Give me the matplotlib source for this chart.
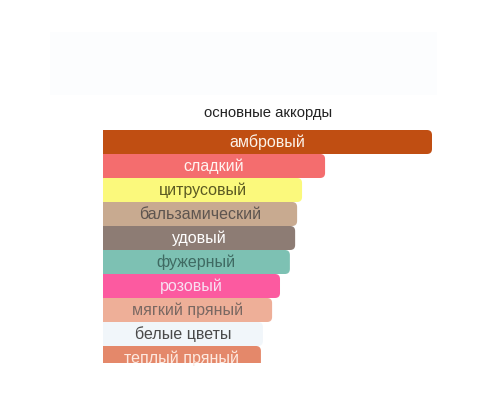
import matplotlib
matplotlib.use("Agg")
import matplotlib.pyplot as plt
from matplotlib.patches import FancyBboxPatch, Rectangle

plt.rcParams['font.family'] = ['Liberation Sans', 'DejaVu Sans']

title = "основные аккорды"
categories = ["амбровый", "сладкий", "цитрусовый", "бальзамический", "удовый",
              "фужерный", "розовый", "мягкий пряный", "белые цветы", "теплый пряный"]
values = [100, 67.5, 60.5, 59.0, 58.4, 56.8, 53.8, 51.4, 48.6, 48.0]
bar_colors = ["#c04e12", "#f46d6e", "#fbf97c", "#c8aa90", "#8d7c74",
              "#7dc1b3", "#fc5aa0", "#eeaf98", "#f1f6fa", "#e4886a"]
text_colors = ["#fbf3ea", "#fff4f0", "#5b5a22", "#5e5550", "#ffffff",
               "#3f6a62", "#f8e0f2", "#7a6862", "#4a4a4a", "#fde9e0"]

W, H = 500, 400
fig = plt.figure(figsize=(W / 100, H / 100), dpi=100)
fig.patch.set_facecolor("white")

# faint panel at top
fig.patches.append(Rectangle((50 / W, 1 - 95 / H), 387 / W, 63 / H,
                             transform=fig.transFigure, facecolor="#fcfdfe",
                             edgecolor="none", zorder=0))

left_px, right_px = 103, 432
top_px, bottom_px = 130, 363
pitch = 24.0
ax = fig.add_axes([left_px / W, 1 - bottom_px / H,
                   (right_px - left_px) / W, (bottom_px - top_px) / H])
ax.set_xlim(0, 100)
nvis = (bottom_px - top_px) / pitch
ax.set_ylim(-0.5 + nvis, -0.5)
ax.axis("off")

px_per_x = (right_px - left_px) / 100.0
px_per_y = pitch
r = 5.0 / px_per_x
aspect = px_per_x / px_per_y

for i, (cat, v, c, tc) in enumerate(zip(categories, values, bar_colors, text_colors)):
    ax.barh(i, v - r, height=1.0, left=0, color=c, edgecolor="none", zorder=2)
    p = FancyBboxPatch((0, i - 0.5), v, 1.0,
                       boxstyle=f"round,pad=0,rounding_size={r}",
                       mutation_aspect=aspect, facecolor=c, edgecolor="none",
                       zorder=2)
    ax.add_patch(p)
    ax.text(v / 2, i + 0.02, cat, ha="center", va="center", fontsize=11.5,
            color=tc, zorder=3)

fig.text(268 / W, 1 - 113 / H, title, ha="center", va="center",
         fontsize=10.7, color="#222222")

fig.savefig("out.png", dpi=100, facecolor="white")
